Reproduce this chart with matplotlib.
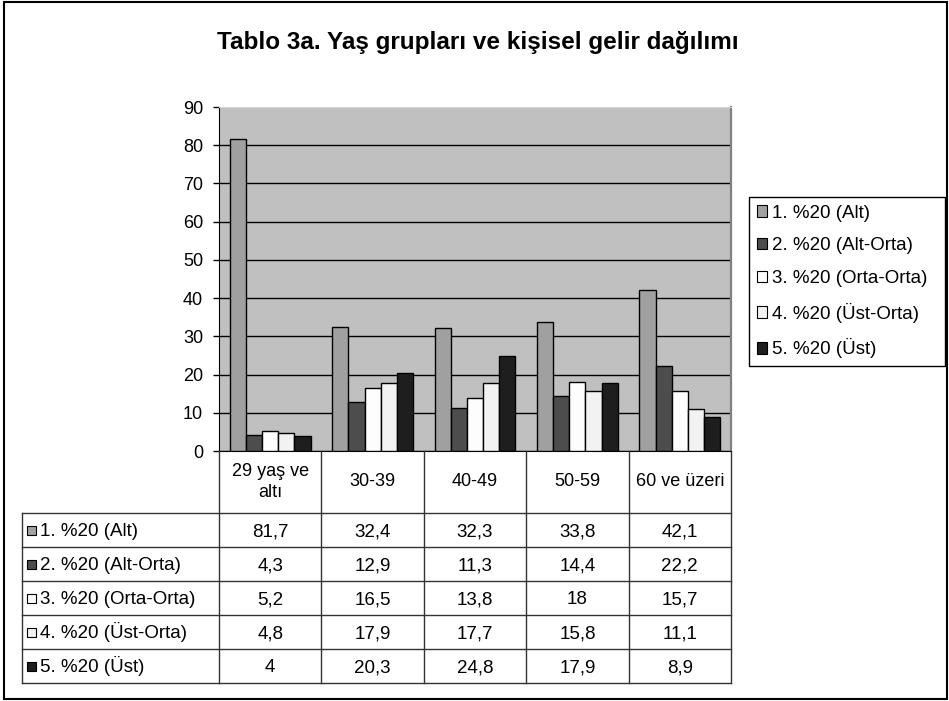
import matplotlib.pyplot as plt
from matplotlib.patches import Rectangle, Patch
import numpy as np

plt.rcParams['font.family'] = ['Liberation Sans', 'DejaVu Sans']

# data
categories = ['29 yaş ve\naltı', '30-39', '40-49', '50-59', '60 ve üzeri']
series_names = ['1. %20 (Alt)', '2. %20 (Alt-Orta)', '3. %20 (Orta-Orta)',
                '4. %20 (Üst-Orta)', '5. %20 (Üst)']
alt = [81.7, 32.4, 32.3, 33.8, 42.1]
alt_orta = [4.3, 12.9, 11.3, 14.4, 22.2]
orta_orta = [5.2, 16.5, 13.8, 18, 15.7]
ust_orta = [4.8, 17.9, 17.7, 15.8, 11.1]
ust = [4, 20.3, 24.8, 17.9, 8.9]
series = [alt, alt_orta, orta_orta, ust_orta, ust]
colors = ['#a0a0a0', '#4d4d4d', '#fdfdfd', '#f2f2f2', '#1e1e1e']
yticks = list(range(0, 91, 10))

W, H = 949, 701
fig = plt.figure(figsize=(W / 100, H / 100), dpi=100)

# plot area (pixels)
p_left, p_right, p_top, p_bottom = 219, 731, 107, 451
ax = fig.add_axes([p_left / W, 1 - p_bottom / H, (p_right - p_left) / W, (p_bottom - p_top) / H])
ax.set_facecolor('#c0c0c0')

x = np.arange(len(categories))
bw = 0.158
for i, vals in enumerate(series):
    ax.bar(x + (i - 2) * bw, vals, bw, color=colors[i], edgecolor='black',
           linewidth=1, zorder=3, label=series_names[i])

ax.set_xlim(-0.5, len(categories) - 0.5)
ax.set_ylim(0, 90)
ax.set_yticks(yticks)
ax.set_xticks([])
ax.tick_params(axis='y', direction='out', length=4.5, width=1, pad=7, labelsize=13)
ax.yaxis.grid(True, color='black', linewidth=1, zorder=1)
ax.set_axisbelow(True)
ax.yaxis.get_gridlines()[-1].set_visible(False)
ax.spines['left'].set_color('black')
ax.spines['bottom'].set_color('black')
ax.spines['top'].set_color('#d8d8d8')
ax.spines['right'].set_color('#808080')
ax.spines['right'].set_linewidth(1.6)

# overlay in pixel coords for frame, title and data table
over = fig.add_axes([0, 0, 1, 1])
over.set_xlim(0, W)
over.set_ylim(H, 0)
over.set_axis_off()

over.add_patch(Rectangle((4, 2), W - 6, H - 4, fill=False, edgecolor='black', linewidth=1.5))
over.text(478, 43, 'Tablo 3a. Yaş grupları ve kişisel gelir dağılımı', ha='center', va='center',
          fontsize=17.5, fontweight='bold')

# data table
colw = (p_right - p_left) / len(categories)
lab_left = 22
head_bottom = 513
row_h = 34
n_rows = len(series)
tab_bottom = head_bottom + row_h * n_rows
line_kw = dict(color='#333333', linewidth=1)

for j in range(len(categories) + 1):
    xx = p_left + j * colw
    over.plot([xx, xx], [p_bottom, tab_bottom], **line_kw)
over.plot([lab_left, lab_left], [head_bottom, tab_bottom], **line_kw)
for r in range(n_rows + 1):
    yy = head_bottom + r * row_h
    over.plot([lab_left, p_right], [yy, yy], **line_kw)

for j, cat in enumerate(categories):
    over.text(p_left + (j + 0.5) * colw, (p_bottom + head_bottom) / 2, cat,
              ha='center', va='center', fontsize=13, linespacing=1.25)

for r, vals in enumerate(series):
    yc = head_bottom + (r + 0.5) * row_h
    base = yc + 6.5
    over.add_patch(Rectangle((27, yc - 4.5), 9, 9, facecolor=colors[r], edgecolor='black', linewidth=0.8))
    over.text(40, base, series_names[r], ha='left', va='baseline', fontsize=13.5)
    for j, v in enumerate(vals):
        over.text(p_left + (j + 0.5) * colw, base, f'{v:g}'.replace('.', ','),
                  ha='center', va='baseline', fontsize=13.5)

# legend
handles = [Patch(facecolor=c, edgecolor='black', linewidth=0.8) for c in colors]
leg = fig.legend(handles, series_names, loc='upper left', mode='expand',
                 bbox_to_anchor=(749 / W, 1 - 360 / H, 196 / W, 163 / H), borderaxespad=0,
                 fontsize=13.5, frameon=True, fancybox=False, framealpha=1,
                 edgecolor='black', handlelength=0.55, handleheight=0.55,
                 handletextpad=0.3, labelspacing=0.84, borderpad=0.4)
leg.get_frame().set_linewidth(1)

fig.savefig('out.png', dpi=100)
